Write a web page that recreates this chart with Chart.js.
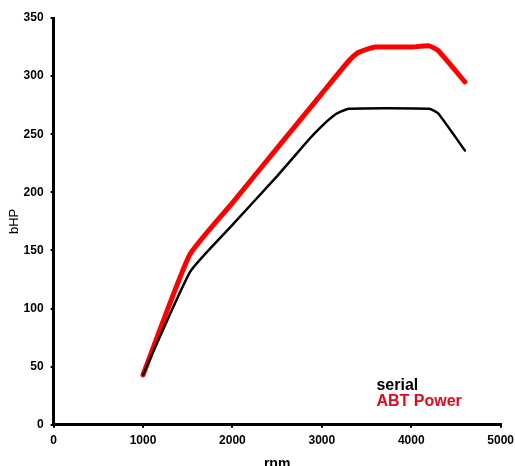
<!DOCTYPE html>
<html>
<head>
<meta charset="utf-8">
<script src="https://cdn.jsdelivr.net/npm/chart.js@4"></script>
<style>
  html, body { margin: 0; padding: 0; background: #fff; overflow: hidden; }
  #wrap { width: 520px; height: 477px; }
</style>
</head>
<body>
<div id="wrap"><canvas id="powerChart" width="520" height="477"></canvas></div>
<script>
// rpm / bHP
const serialRpm = [1000, 1530, 2000, 2500, 2850, 3000, 3150, 3300, 4200, 4300, 4600];
const serialHp  = [43, 132, 172, 214, 245, 257, 267, 272, 272, 268, 236];

const abtRpm = [1000, 1520, 2000, 2500, 3000, 3300, 3400, 3500, 3600, 3800, 4000, 4200, 4300, 4600];
const abtHp  = [43, 146, 191, 238, 285, 313, 320, 323, 325, 325, 325, 326, 322, 295];

const seriesNames = ["serial", "ABT Power"];
const xTicks = [0, 1000, 2000, 3000, 4000, 5000];
const yTicks = [0, 50, 100, 150, 200, 250, 300, 350];

const FONT = "'Liberation Sans', Arial, sans-serif";

function toPoints(xs, ys) {
    return xs.map((x, i) => ({ x: x, y: ys[i] }));
}

// legend drawn inside the plot, bottom right
const insideLegend = {
    id: "insideLegend",
    afterDraw(chart) {
        const { ctx, scales } = chart;
        const x = scales.x.getPixelForValue(3611);
        const y = scales.y.getPixelForValue(30);
        ctx.save();
        ctx.font = "bold 16px " + FONT;
        ctx.textBaseline = "alphabetic";
        ctx.fillStyle = "#000";
        ctx.fillText(seriesNames[0], x, y);
        ctx.fillStyle = "#dd0a20";
        ctx.fillText(seriesNames[1], x, y + 16);
        ctx.restore();
    }
};

const ctx = document.getElementById("powerChart").getContext("2d");
const powerChart = new Chart(ctx, {
    type: "line",
    data: {
        datasets: [
            {
                label: seriesNames[0],
                data: toPoints(serialRpm, serialHp),
                borderColor: "#000",
                borderWidth: 2.5,
                pointRadius: 0,
                tension: 0.15,
                borderCapStyle: "round",
                borderJoinStyle: "round",
            },
            {
                label: seriesNames[1],
                data: toPoints(abtRpm, abtHp),
                borderColor: "#ff0000",
                borderWidth: 5,
                pointRadius: 0,
                tension: 0.15,
                borderCapStyle: "round",
                borderJoinStyle: "round",
            },
        ],
    },
    options: {
        responsive: false,
        animation: false,
        layout: { padding: { top: 18, left: 7, right: 0, bottom: 0 } },
        plugins: { legend: { display: false }, tooltip: { enabled: false } },
        scales: {
            x: {
                type: "linear",
                min: 0,
                max: 5000,
                afterBuildTicks: axis => { axis.ticks = xTicks.map(v => ({ value: v })); },
                ticks: { color: "#000", font: { family: FONT, size: 12, weight: "bold" }, padding: 6, maxRotation: 0, callback: v => String(v) },
                grid: { drawOnChartArea: false, drawTicks: true, tickLength: 3, color: "#000", lineWidth: 2 },
                border: { display: true, color: "#000", width: 3 },
                title: { display: true, text: "rpm", color: "#000", font: { family: FONT, size: 14, weight: "bold" }, padding: { top: 2 } },
            },
            y: {
                min: 0,
                max: 350,
                afterBuildTicks: axis => { axis.ticks = yTicks.map(v => ({ value: v })); },
                ticks: { color: "#000", font: { family: FONT, size: 12, weight: "bold" }, padding: 7, callback: v => String(v) },
                grid: { drawOnChartArea: false, drawTicks: true, tickLength: 3, color: "#000", lineWidth: 2 },
                border: { display: true, color: "#000", width: 3 },
                title: { display: true, text: "bHP", color: "#000", font: { family: FONT, size: 13 }, padding: { top: 0, bottom: -6 } },
            },
        },
    },
    plugins: [insideLegend],
});
</script>
</body>
</html>
